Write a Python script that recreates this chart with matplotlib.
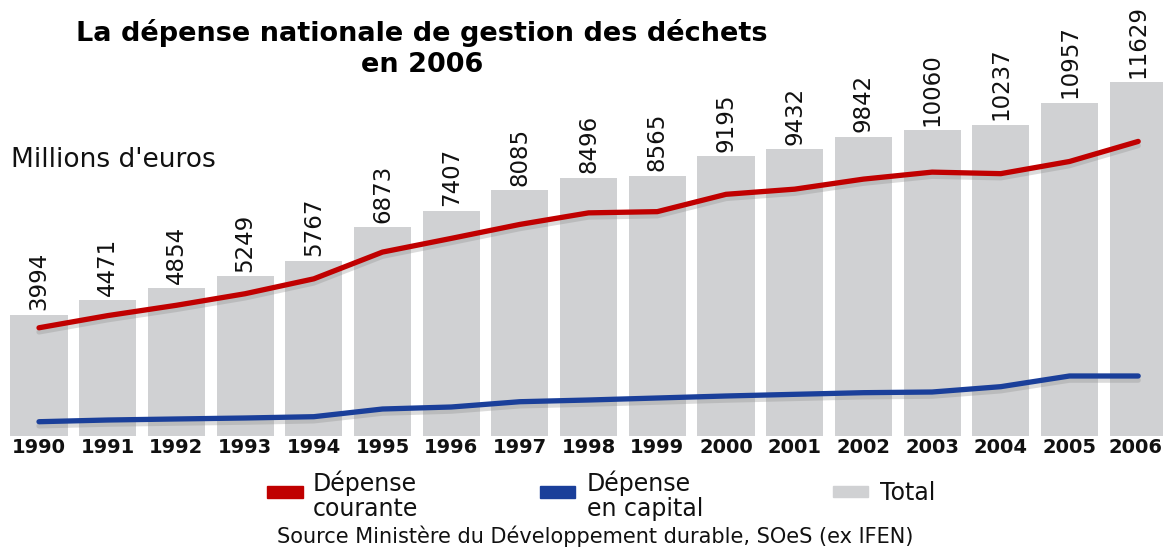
import matplotlib
matplotlib.use("Agg")
import matplotlib.pyplot as plt
import matplotlib.patheffects as pe

years = ["1990", "1991", "1992", "1993", "1994", "1995", "1996", "1997", "1998",
         "1999", "2000", "2001", "2002", "2003", "2004", "2005", "2006"]
total = [3994, 4471, 4854, 5249, 5767, 6873, 7407, 8085, 8496,
         8565, 9195, 9432, 9842, 10060, 10237, 10957, 11629]
courante = [3560, 3960, 4300, 4680, 5170, 6050, 6500, 6960, 7340,
            7380, 7950, 8120, 8450, 8680, 8630, 9030, 9690]
capital = [470, 526, 560, 592, 635, 888, 954, 1128, 1184,
           1250, 1316, 1371, 1425, 1447, 1623, 1974, 1974]

W, H = 1163, 548
fig = plt.figure(figsize=(W / 100, H / 100), dpi=100)

step = 68.7
c0 = 39.0
left_px = c0 - 0.5 * step
width_px = 17 * step
bottom_px = 436
ymax = 12000
scale = 0.0304
top_px = bottom_px - ymax * scale
ax = fig.add_axes([left_px / W, 1 - bottom_px / H, width_px / W, (bottom_px - top_px) / H])
ax.set_xlim(-0.5, 16.5)
ax.set_ylim(0, ymax)
ax.axis("off")

x = list(range(len(years)))
bar_color = "#d0d1d3"
ax.bar(x, total, width=0.83, color=bar_color, zorder=1)

shadow = [pe.SimpleLineShadow(offset=(0, -3), shadow_color="#8a8a8a", alpha=0.3), pe.Normal()]
ax.plot(x, courante, color="#c00000", lw=3.8, solid_capstyle="round", zorder=3, path_effects=shadow)
ax.plot(x, capital, color="#1a3f9a", lw=3.8, solid_capstyle="round", zorder=3, path_effects=shadow)

for xi, v in zip(x, total):
    ax.text(xi, v + 150, str(v), rotation=90, ha="center", va="bottom",
            fontsize=16.5, family="DejaVu Sans", color="#111111")

last = len(years) - 1
for xi, y in zip(x, years):
    if xi == last:
        ax.text(xi + 0.35, -(453 - bottom_px) / scale, y, ha="right", va="baseline", fontsize=14,
                fontweight="bold", family="DejaVu Sans", color="#111111", clip_on=False)
    else:
        ax.text(xi, -(453 - bottom_px) / scale, y, ha="center", va="baseline", fontsize=14,
                fontweight="bold", family="DejaVu Sans", color="#111111", clip_on=False)

def fy(py):
    return 1 - py / H

fig.text(422 / W, fy(41), "La dépense nationale de gestion des déchets",
         ha="center", va="baseline", fontsize=19.5, fontweight="bold", family="DejaVu Sans")
fig.text(422 / W, fy(72), "en 2006",
         ha="center", va="baseline", fontsize=19.5, fontweight="bold", family="DejaVu Sans")
fig.text(11 / W, fy(167), "Millions d'euros", ha="left", va="baseline",
         fontsize=19, family="DejaVu Sans", color="#111111")

# legend
def swatch(x0, x1, y0, y1, color):
    fig.patches.append(plt.Rectangle((x0 / W, fy(y1)), (x1 - x0) / W, (y1 - y0) / H,
                                     transform=fig.transFigure, color=color, figure=fig))

lg = dict(ha="left", va="baseline", fontsize=17, family="DejaVu Sans", color="#111111")
swatch(267, 303, 486, 498, "#c00000")
fig.text(313 / W, fy(491), "Dépense", **lg)
fig.text(313 / W, fy(516), "courante", **lg)
swatch(540, 575, 486, 498, "#1a3f9a")
fig.text(587 / W, fy(491), "Dépense", **lg)
fig.text(587 / W, fy(516), "en capital", **lg)
swatch(833, 868, 486, 497, bar_color)
fig.text(880 / W, fy(500), "Total", **lg)

fig.text(595 / W, fy(543), "Source Ministère du Développement durable, SOeS (ex IFEN)",
         ha="center", va="baseline", fontsize=15, family="DejaVu Sans", color="#111111")

fig.savefig("out.png", dpi=100, facecolor="white")
